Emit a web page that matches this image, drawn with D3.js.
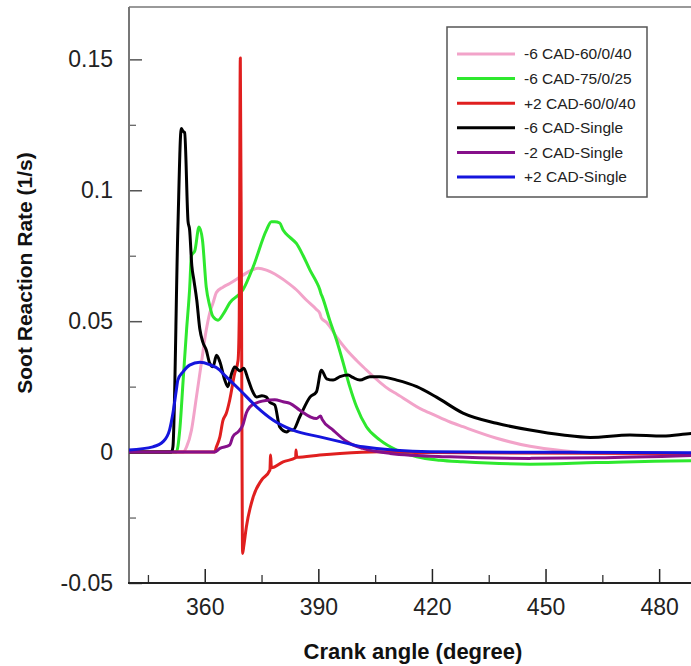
<!DOCTYPE html>
<html lang="en">
    <head>
        <title></title>
        <meta charset="UTF-8">
        <script src="https://d3js.org/d3.v7.min.js"></script>
    </head>
    <style>
        body { margin: 0; background: #fff; }
        text { font-family: "Liberation Sans", Arial, sans-serif; }
    </style>
    <body>
        <script>
            // crank angle (deg) / soot reaction rate (1/s)
            var pink = [[340,0],[354.3,0],[355.2,0.002],[356.5,0.0084],[357.8,0.021],[359.1,0.0339],[360.4,0.0466],[361.3,0.053],[362.2,0.057],[363.1,0.061],[364.8,0.063],[366.6,0.0644],[370.1,0.0676],[372.4,0.0695],[374.1,0.0702],[376.3,0.0695],[378.5,0.068],[381.6,0.065],[384.2,0.062],[386.9,0.058],[389.5,0.0545],[390.4,0.053],[390.8,0.0512],[392.2,0.0495],[393.0,0.048],[394.8,0.044],[397.5,0.039],[400.1,0.035],[401.8,0.0326],[408.9,0.0237],[410.7,0.0222],[417.7,0.016],[419.5,0.0149],[424.8,0.0115],[428.2,0.0097],[437.1,0.0053],[445.9,0.0022],[454.6,0.0005],[463.5,-0.0005],[481.0,-0.0008],[490,-0.0008]];

            var green = [[340,0],[352.5,0],[353.4,0.0084],[354.3,0.0275],[355.2,0.0466],[356.0,0.062],[356.5,0.075],[357.4,0.077],[358.5,0.086],[359.4,0.081],[360.4,0.063],[361.3,0.056],[362.2,0.0517],[363.5,0.0504],[365.0,0.053],[366.6,0.057],[370.1,0.062],[372.8,0.0708],[376.3,0.0848],[377.6,0.088],[378.5,0.088],[379.8,0.0875],[380.7,0.0848],[382.5,0.082],[384.2,0.0797],[386.0,0.075],[387.8,0.0695],[389.5,0.065],[390.4,0.062],[390.7,0.0605],[391.0,0.0595],[393.0,0.0504],[394.8,0.0428],[396.6,0.0339],[398.3,0.025],[400.1,0.0173],[402.7,0.0097],[406.3,0.0046],[410.7,0.0008],[416.0,-0.0018],[422.1,-0.0031],[428.2,-0.0037],[445.9,-0.0046],[463.5,-0.004],[488.5,-0.0033],[490,-0.0033]];

            var red = [[340,0],[362.6,0],[363.1,0.002],[364.0,0.0058],[364.8,0.012],[365.7,0.0148],[366.6,0.0199],[367.9,0.03],[368.8,0.035],[369.1,0.05],[369.4,0.1505],[369.7,0.06],[370.0,-0.0387],[370.3,-0.036],[371.0,-0.0285],[372.8,-0.0171],[375.0,-0.0107],[377.2,-0.0069],[377.4,-0.0011],[377.6,-0.006],[380.7,-0.0037],[384.0,-0.0022],[384.1,0.0008],[384.3,-0.002],[390.4,-0.0011],[395.7,-0.0005],[406.3,0.0001],[420,-0.0002],[490,-0.0005]];

            var black = [[340,0],[351.2,0],[351.6,0.002],[352.9,0.085],[353.8,0.1236],[354.3,0.1225],[354.7,0.122],[355.6,0.088],[356.0,0.085],[356.6,0.071],[357.1,0.066],[357.9,0.058],[358.7,0.047],[359.5,0.042],[360.4,0.039],[361.3,0.034],[362.2,0.0326],[363.1,0.037],[364.0,0.0345],[365.3,0.0275],[366.1,0.025],[367.1,0.03],[367.9,0.0325],[369.3,0.031],[370.3,0.032],[371.4,0.028],[372.4,0.024],[373.7,0.021],[375.1,0.0215],[376.3,0.021],[377.2,0.019],[378.5,0.018],[379.8,0.0096],[381.6,0.0077],[382.5,0.0084],[383.3,0.0084],[385.1,0.0135],[387.8,0.021],[389.5,0.023],[390.8,0.0313],[392.2,0.028],[393.9,0.0275],[395.7,0.0288],[397.9,0.0294],[399.1,0.0285],[401.0,0.0275],[403.6,0.0288],[406.3,0.0288],[410.7,0.0275],[416.0,0.025],[421.2,0.021],[428.2,0.0149],[437.1,0.011],[445.9,0.0084],[454.6,0.0065],[461.8,0.0056],[472.3,0.0065],[481.0,0.0061],[488.5,0.0071],[490,0.0072]];

            var purple = [[340,0],[362.6,0],[364.0,0.0014],[366.6,0.0027],[367.4,0.0058],[369.0,0.008],[370.1,0.0105],[371.0,0.015],[371.9,0.0172],[373.7,0.0188],[377.2,0.0199],[378.5,0.02],[380.7,0.0192],[382.5,0.0186],[385.1,0.016],[387.8,0.0135],[389.5,0.0128],[390.6,0.0138],[391.0,0.0125],[393.9,0.0084],[397.5,0.004],[401.8,0.0014],[408.9,-0.0005],[424.8,-0.0018],[445.9,-0.0024],[463.5,-0.0022],[490,-0.0012]];

            var blue = [[340,0.0008],[346.3,0.002],[349.0,0.004],[350.7,0.0084],[351.6,0.0148],[352.5,0.0237],[352.9,0.0275],[354.3,0.0307],[356.0,0.0332],[358.7,0.0343],[361.3,0.0334],[364.0,0.0313],[364.8,0.030],[366.6,0.0275],[369.3,0.0237],[373.7,0.0173],[378.1,0.0122],[383.3,0.0084],[390.4,0.0058],[395.7,0.004],[401.8,0.002],[419.5,0.0001],[454.6,-0.0001],[490,-0.0003]];

            var seriesNames = ["-6 CAD-60/0/40", "-6 CAD-75/0/25", "+2 CAD-60/0/40", "-6 CAD-Single", "-2 CAD-Single", "+2 CAD-Single"];
            var seriesData = [pink, green, red, black, purple, blue];
            var seriesColors = ["#f2a3c9", "#2ee82e", "#e01f1f", "#000000", "#86108a", "#1515dd"];

            var xMajor = [360, 390, 420, 450, 480];
            var xMinor = [345, 375, 405, 435, 465];
            var yMajor = [-0.05, 0, 0.05, 0.1, 0.15];
            var yLabels = ["-0.05", "0", "0.05", "0.1", "0.15"];
            var yMinor = [-0.025, 0.025, 0.075, 0.125];

            var width = 691, height = 666;
            var mLeft = 129, mTop = 7, mBottom = 583, mRight = 697;

            var svg = d3.select("body").append("svg")
                .attr("width", width)
                .attr("height", height);

            var x = d3.scaleLinear().domain([340, 490]).range([mLeft, mRight]);
            var y = d3.scaleLinear().domain([-0.05, 0.17]).range([mBottom, mTop]);

            svg.append("clipPath").attr("id", "plot")
                .append("rect")
                .attr("x", mLeft).attr("y", mTop)
                .attr("width", mRight - mLeft).attr("height", mBottom - mTop);

            // minor ticks
            svg.append("g")
                .attr("transform", "translate(" + mLeft + ",0)")
                .call(d3.axisLeft(y).tickValues(yMinor).tickSize(-7).tickFormat(""))
                .call(function(g){ g.select(".domain").remove(); g.selectAll("line").attr("stroke", "#666").attr("stroke-width", 1.3); });
            svg.append("g")
                .attr("transform", "translate(0," + mBottom + ")")
                .call(d3.axisBottom(x).tickValues(xMinor).tickSize(-8).tickFormat(""))
                .call(function(g){ g.select(".domain").remove(); g.selectAll("line").attr("stroke", "#333").attr("stroke-width", 1.3); });

            // major ticks + labels
            svg.append("g")
                .attr("transform", "translate(" + mLeft + ",0)")
                .call(d3.axisLeft(y).tickValues(yMajor).tickSize(-13).tickPadding(16)
                    .tickFormat(function(d, i){ return yLabels[i]; }))
                .call(function(g){
                    g.select(".domain").remove();
                    g.selectAll("line").attr("stroke", "#555").attr("stroke-width", 1.5);
                    g.selectAll("text").attr("font-size", 23).attr("fill", "#222")
                        .style("font-family", "Liberation Sans, Arial, sans-serif");
                });
            svg.append("g")
                .attr("transform", "translate(0," + mBottom + ")")
                .call(d3.axisBottom(x).tickValues(xMajor).tickSize(-14).tickPadding(16))
                .call(function(g){
                    g.select(".domain").remove();
                    g.selectAll("line").attr("stroke", "#222").attr("stroke-width", 1.5);
                    g.selectAll("text").attr("font-size", 23).attr("fill", "#222")
                        .style("font-family", "Liberation Sans, Arial, sans-serif");
                });

            // frame
            svg.append("line").attr("x1", mLeft).attr("x2", mLeft).attr("y1", mTop).attr("y2", mBottom)
                .attr("stroke", "#777").attr("stroke-width", 2);
            svg.append("line").attr("x1", mLeft).attr("x2", width).attr("y1", mTop).attr("y2", mTop)
                .attr("stroke", "#777").attr("stroke-width", 1.5);
            svg.append("line").attr("x1", mLeft - 1).attr("x2", width).attr("y1", mBottom).attr("y2", mBottom)
                .attr("stroke", "#222").attr("stroke-width", 2);

            var line = d3.line()
                .x(function(d){ return x(d[0]); })
                .y(function(d){ return y(d[1]); })
                .curve(d3.curveMonotoneX);

            svg.append("g").attr("clip-path", "url(#plot)")
                .selectAll("path")
                .data(seriesData)
                .enter()
                .append("path")
                .attr("d", line)
                .attr("fill", "none")
                .attr("stroke", function(d, i){ return seriesColors[i]; })
                .attr("stroke-width", 3)
                .attr("stroke-linejoin", "round");

            // legend
            var legend = svg.append("g");
            legend.append("rect")
                .attr("x", 447).attr("y", 27)
                .attr("width", 200).attr("height", 170)
                .attr("fill", "#fff")
                .attr("stroke", "#555")
                .attr("stroke-width", 1.5);
            var item = legend.selectAll(".item")
                .data(seriesNames)
                .enter()
                .append("g")
                .attr("class", "item")
                .attr("transform", function(d, i){ return "translate(0," + (54 + i * 24.6) + ")"; });
            item.append("line")
                .attr("x1", 457).attr("x2", 515)
                .attr("stroke", function(d, i){ return seriesColors[i]; })
                .attr("stroke-width", 3);
            item.append("text")
                .attr("x", 524)
                .attr("dy", "0.35em")
                .attr("font-size", 15.5)
                .attr("fill", "#222")
                .text(function(d){ return d; });

            // axis titles
            svg.append("text")
                .attr("x", 413).attr("y", 659)
                .attr("text-anchor", "middle")
                .attr("font-size", 22)
                .attr("font-weight", "bold")
                .attr("fill", "#111")
                .text("Crank angle (degree)");

            svg.append("text")
                .attr("transform", "translate(32,273) rotate(-90)")
                .attr("text-anchor", "middle")
                .attr("font-size", 21)
                .attr("font-weight", "bold")
                .attr("fill", "#111")
                .text("Soot Reaction Rate (1/s)");
        </script>
    </body>
</html>
